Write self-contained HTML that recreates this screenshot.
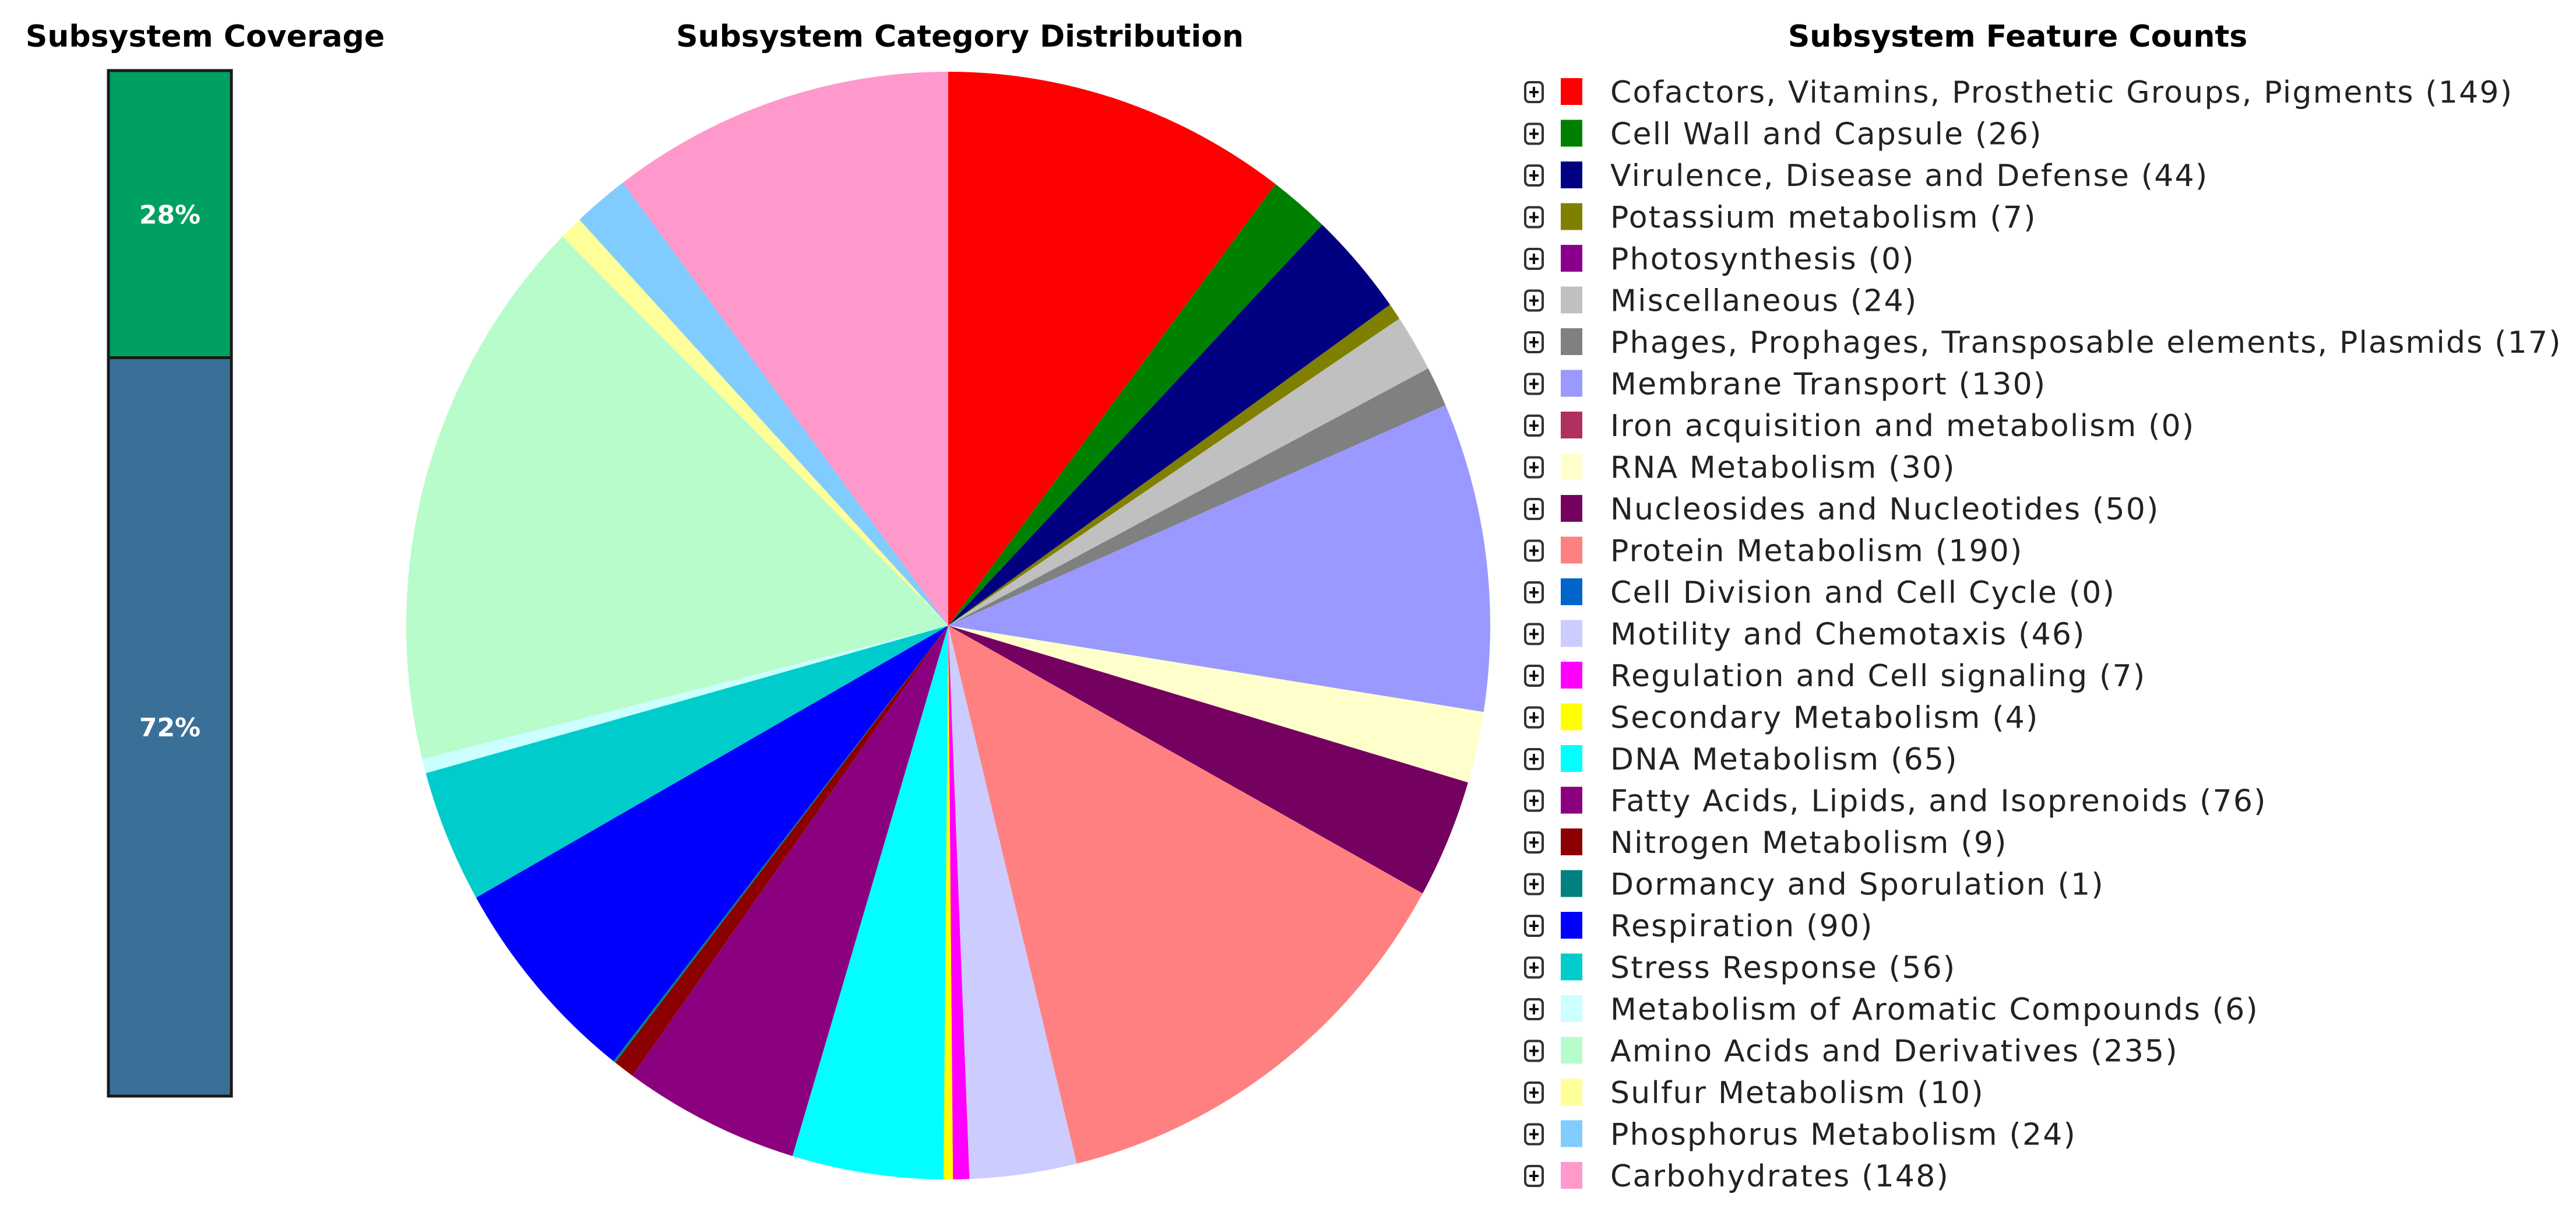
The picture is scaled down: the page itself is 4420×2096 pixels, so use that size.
<!DOCTYPE html>
<html><head><meta charset="utf-8"><style>
body{margin:0;background:#fff;width:4420px;height:2092px;overflow:hidden;font-family:"DejaVu Sans","Liberation Sans",sans-serif;}
</style></head><body>
<svg width="4420" height="2092" xmlns="http://www.w3.org/2000/svg">
<text x="352" y="80" text-anchor="middle" font-size="52" font-weight="bold" fill="#000">Subsystem Coverage</text>
<text x="1647" y="80" text-anchor="middle" font-size="52" font-weight="bold" fill="#000">Subsystem Category Distribution</text>
<text x="3462" y="80" text-anchor="middle" font-size="52" font-weight="bold" fill="#000">Subsystem Feature Counts</text>
<g id="cov"></g>
<g id="pie"></g>
<g id="legend"></g>
</svg>
<script>
const categories=["Cofactors, Vitamins, Prosthetic Groups, Pigments","Cell Wall and Capsule","Virulence, Disease and Defense","Potassium metabolism","Photosynthesis","Miscellaneous","Phages, Prophages, Transposable elements, Plasmids","Membrane Transport","Iron acquisition and metabolism","RNA Metabolism","Nucleosides and Nucleotides","Protein Metabolism","Cell Division and Cell Cycle","Motility and Chemotaxis","Regulation and Cell signaling","Secondary Metabolism","DNA Metabolism","Fatty Acids, Lipids, and Isoprenoids","Nitrogen Metabolism","Dormancy and Sporulation","Respiration","Stress Response","Metabolism of Aromatic Compounds","Amino Acids and Derivatives","Sulfur Metabolism","Phosphorus Metabolism","Carbohydrates"];
const counts=[149,26,44,7,0,24,17,130,0,30,50,190,0,46,7,4,65,76,9,1,90,56,6,235,10,24,148];
const colors=["#ff0000","#008000","#000080","#808000","#8b008b","#c0c0c0","#808080","#9999ff","#b03060","#ffffcc","#740060","#ff8080","#0066cc","#ccccff","#ff00ff","#ffff00","#00ffff","#8b007f","#8b0000","#008080","#0000ff","#00cccc","#ccffff","#b8fccb","#ffff99","#80ccff","#ff99cc"];
const coverage=[28,72];
const NS="http://www.w3.org/2000/svg";
function mk(t,a,p){const e=document.createElementNS(NS,t);for(const k in a)e.setAttribute(k,a[k]);p.appendChild(e);return e;}
const cov=document.getElementById('cov');
const bx=186,bw=211,by=121,bh=1759;
let yy=by;
const covColors=["#00a060","#3a7098"];
coverage.forEach((v,i)=>{
  const h=bh*v/100;
  const r=mk('rect',{x:bx,y:yy,width:bw,height:h,fill:covColors[i],stroke:"#1a1a1a","stroke-width":5},cov);
  
  
  const t=mk('text',{x:bx+bw/2,y:yy+h/2+16,"text-anchor":"middle","font-size":44,"font-weight":"bold",fill:"#fff"},cov);
  t.textContent=v+"%";
  
  
  yy+=h;
});
const pie=document.getElementById('pie');
const cx=1627,cy=1073,rx=930,ry=950;
const total=counts.reduce((a,b)=>a+b,0);
let acc=0;
counts.forEach((v,i)=>{
  if(v<=0)return;
  const a0=acc/total*2*Math.PI;acc+=v;const a1=acc/total*2*Math.PI;
  const x0=cx+rx*Math.sin(a0),y0=cy-ry*Math.cos(a0),x1=cx+rx*Math.sin(a1),y1=cy-ry*Math.cos(a1);
  const large=(a1-a0)>Math.PI?1:0;
  const p=mk('path',{d:`M${cx},${cy}L${x0},${y0}A${rx},${ry} 0 ${large} 1 ${x1},${y1}Z`,fill:colors[i]},pie);
  
  
});
const lg=document.getElementById('legend');
const ly0=158,ld=71.5;
categories.forEach((c,i)=>{
  const y=ly0+i*ld;
  const g=mk('g',{},lg);
  
  
  const b=mk('rect',{x:2617,y:y-17,width:30,height:34,rx:7,fill:"#fff",stroke:"#333","stroke-width":4},g);
  
  
  mk('path',{d:`M2632,${y-9}V${y+9}M2624,${y}H2640`,stroke:"#111","stroke-width":4},g);
  const s=mk('rect',{x:2678,y:y-24,width:37,height:46,fill:colors[i]},g);
  
  
  const t=mk('text',{x:2763,y:y+18,"font-size":52,"letter-spacing":2.2,fill:"#222"},g);
  t.textContent=c+" ("+counts[i]+")";
  
  
});
</script>
</body></html>
